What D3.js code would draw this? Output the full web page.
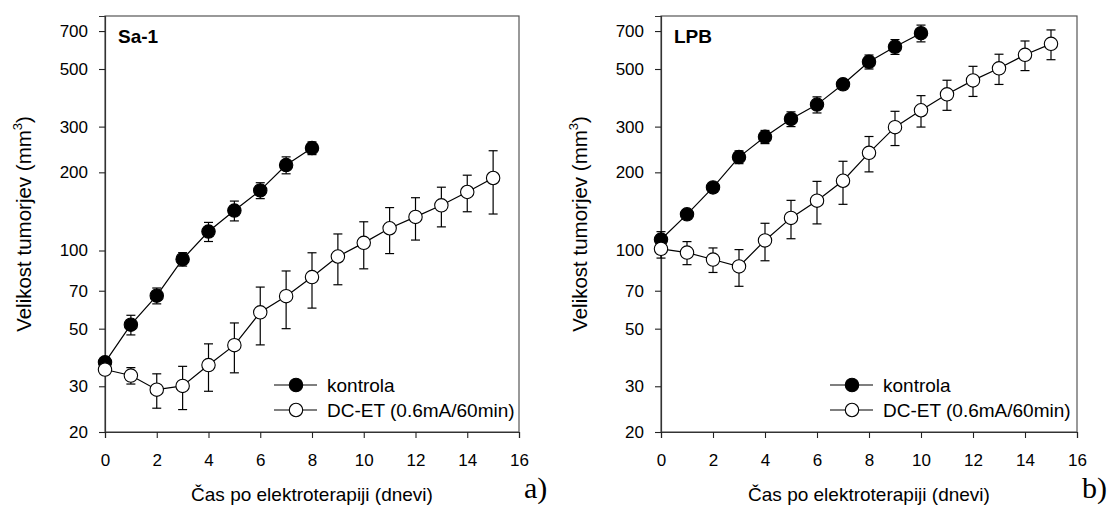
<!DOCTYPE html>
<html>
<head>
<meta charset="utf-8">
<script src="https://cdn.jsdelivr.net/npm/d3@7"></script>
<style>
  html, body { margin: 0; padding: 0; background: #fff; }
  svg { display: block; font-family: "Liberation Sans", Arial, sans-serif; }
</style>
</head>
<body>
<svg id="chart" width="1120" height="524"></svg>
<script>
// ---------- data ----------
const yTicks = [20, 30, 50, 70, 100, 200, 300, 500, 700];
const xTicks = [0, 2, 4, 6, 8, 10, 12, 14, 16];

const sa1KontrolaDays = [0, 1, 2, 3, 4, 5, 6, 7, 8];
const sa1Kontrola     = [37.1, 51.8, 67, 92.6, 118.3, 142.5, 170.4, 213.4, 248];
const sa1KontrolaErr  = [1.5, 4.5, 4.7, 5.5, 10, 12.5, 12, 16, 14];

const sa1DcetDays = [0, 1, 2, 3, 4, 5, 6, 7, 8, 9, 10, 11, 12, 13, 14, 15];
const sa1Dcet     = [34.8, 33, 29.1, 30.1, 36.2, 43.2, 57.8, 66.7, 79, 94.8, 107, 121.8, 134.7, 149.3, 168, 190.2];
const sa1DcetErr  = [1.2, 2.4, 4.4, 5.7, 7.5, 9.4, 14.5, 16.7, 19, 21, 22, 24.5, 25, 26, 27, 52];

const lpbKontrolaDays = [0, 1, 2, 3, 4, 5, 6, 7, 8, 9, 10];
const lpbKontrola     = [110.2, 137.8, 175, 229, 274, 321, 364.6, 436.6, 533, 609, 687];
const lpbKontrolaErr  = [8, 5, 6, 13, 16, 21, 26, 17, 33, 40, 51];

const lpbDcetDays = [0, 1, 2, 3, 4, 5, 6, 7, 8, 9, 10, 11, 12, 13, 14, 15];
const lpbDcet     = [101.5, 98.2, 92.3, 86.8, 109.3, 133.5, 155.6, 185.6, 237.8, 298.6, 346.8, 399.6, 452, 503, 567, 625];
const lpbDcetErr  = [8, 10, 10, 14, 18, 22.5, 29, 35, 37, 45, 48, 53, 60, 67, 74, 82];

const legendLabels = ["kontrola", "DC-ET (0.6mA/60min)"];
const xTitle = "Čas po elektroterapiji (dnevi)";
const yTitle = "Velikost tumorjev (mm";

const panels = [
  { name: "Sa-1", tag: "a)", left: 105, right: 519,
    series: [
      { days: sa1KontrolaDays, vals: sa1Kontrola, err: sa1KontrolaErr, fill: "#000" },
      { days: sa1DcetDays, vals: sa1Dcet, err: sa1DcetErr, fill: "#fff" }
    ] },
  { name: "LPB", tag: "b)", left: 661, right: 1077,
    series: [
      { days: lpbKontrolaDays, vals: lpbKontrola, err: lpbKontrolaErr, fill: "#000" },
      { days: lpbDcetDays, vals: lpbDcet, err: lpbDcetErr, fill: "#fff" }
    ] }
];

// ---------- drawing ----------
const svg = d3.select("#chart");
const plotTop = 16, plotBottom = 432;
const R = 6.7, cap = 4.5;

panels.forEach(p => {
  const g = svg.append("g");
  const x = d3.scaleLinear().domain([0, 16]).range([p.left, p.right]);
  const y = d3.scaleLog().domain([20, 800]).range([plotBottom, plotTop]);

  // frame
  g.append("rect")
    .attr("x", p.left).attr("y", plotTop)
    .attr("width", p.right - p.left).attr("height", plotBottom - plotTop)
    .attr("fill", "none").attr("stroke", "#555").attr("stroke-width", 1.2);

  // axes
  const ya = g.append("g").attr("transform", `translate(${p.left},0)`)
    .call(d3.axisLeft(y).tickValues(yTicks).tickFormat(d3.format("d")).tickSize(6).tickPadding(11));
  const xa = g.append("g").attr("transform", `translate(0,${plotBottom})`)
    .call(d3.axisBottom(x).tickValues(xTicks).tickFormat(d3.format("d")).tickSize(6).tickPadding(16));
  [ya, xa].forEach(a => {
    a.select(".domain").attr("stroke", "#333").attr("stroke-width", 1.2);
    a.selectAll(".tick line").attr("stroke", "#222").attr("stroke-width", 1.1);
    a.selectAll(".tick text").attr("font-size", 17).attr("fill", "#000")
      .attr("font-family", "Liberation Sans, Arial, sans-serif");
  });

  // series
  const line = d3.line().x(d => x(d.d)).y(d => y(d.v));
  p.series.forEach(s => {
    const pts = s.days.map((d, i) => ({ d, v: s.vals[i], e: s.err[i] }));
    const eg = g.append("g").attr("stroke", "#000").attr("stroke-width", 1.2);
    pts.forEach(pt => {
      const y1 = y(pt.v + pt.e), y2 = y(pt.v - pt.e), cx = x(pt.d);
      eg.append("line").attr("x1", cx).attr("x2", cx).attr("y1", y1).attr("y2", y2);
      eg.append("line").attr("x1", cx - cap).attr("x2", cx + cap).attr("y1", y1).attr("y2", y1);
      eg.append("line").attr("x1", cx - cap).attr("x2", cx + cap).attr("y1", y2).attr("y2", y2);
    });
    g.append("path").datum(pts).attr("d", line)
      .attr("fill", "none").attr("stroke", "#000").attr("stroke-width", 1.2);
    g.selectAll(null).data(pts).enter().append("circle")
      .attr("cx", d => x(d.d)).attr("cy", d => y(d.v)).attr("r", R)
      .attr("fill", s.fill).attr("stroke", "#000").attr("stroke-width", 1.1);
  });

  // legend
  const lx0 = p.left + 169, lx1 = p.left + 212, lcx = p.left + 191;
  [385, 410].forEach((ly, i) => {
    g.append("line").attr("x1", lx0).attr("x2", lx1).attr("y1", ly).attr("y2", ly)
      .attr("stroke", "#000").attr("stroke-width", 1.2);
    g.append("circle").attr("cx", lcx).attr("cy", ly).attr("r", R)
      .attr("fill", p.series[i].fill).attr("stroke", "#000").attr("stroke-width", 1.1);
    g.append("text").attr("x", p.left + 222).attr("y", ly).attr("dy", "0.35em")
      .attr("font-size", 19).text(legendLabels[i]);
  });

  // panel label
  g.append("text").attr("x", p.left + 13).attr("y", 43)
    .attr("font-size", 19).attr("font-weight", "bold").text(p.name);

  // x title
  g.append("text").attr("x", (p.left + p.right) / 2).attr("y", 501)
    .attr("text-anchor", "middle").attr("font-size", 19).text(xTitle);

  // y title
  const yt = g.append("text")
    .attr("transform", `translate(${p.left - 74},${(plotTop + plotBottom) / 2}) rotate(-90)`)
    .attr("text-anchor", "middle").attr("font-size", 20.5);
  yt.append("tspan").text(yTitle);
  yt.append("tspan").attr("font-size", 13).attr("dy", "-0.7em").text("3");
  yt.append("tspan").attr("dy", "0.45em").text(")");

  // sub-figure tag
  g.append("text").attr("x", p.right + 5).attr("y", 498)
    .attr("font-family", "Liberation Serif, Times New Roman, serif")
    .attr("font-size", 30).text(p.tag);
});
</script>
</body>
</html>
